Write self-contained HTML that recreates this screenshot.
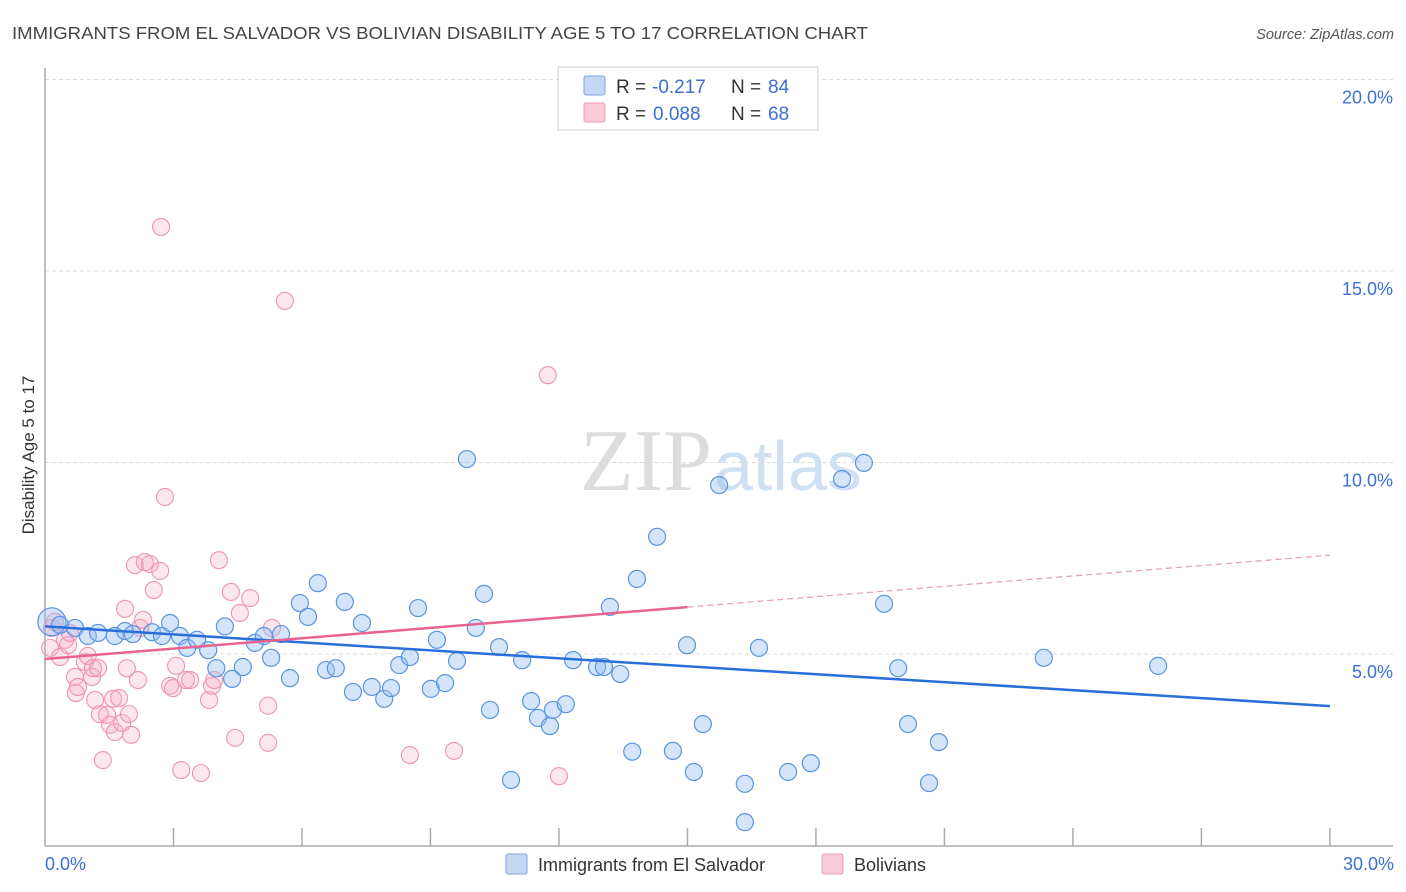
<!DOCTYPE html>
<html><head><meta charset="utf-8"><style>
body{margin:0;background:#fff;font-family:"Liberation Sans",sans-serif;}
svg{display:block}
</style></head><body>
<svg id="c" width="1406" height="892">
<text x="12" y="39" font-size="17.5" fill="#444" textLength="856" lengthAdjust="spacingAndGlyphs">IMMIGRANTS FROM EL SALVADOR VS BOLIVIAN DISABILITY AGE 5 TO 17 CORRELATION CHART</text>
<text x="1394" y="39" font-size="14.5" fill="#555" font-style="italic" text-anchor="end">Source: ZipAtlas.com</text>
<text x="712" y="490" font-size="88" fill="#ddd" font-family="Liberation Serif,serif" text-anchor="end">ZIP</text>
<text x="714" y="490" font-size="70" fill="#cfe0f3">atlas</text>
<g id="grid"></g>
<line x1="45" y1="68" x2="45" y2="846" stroke="#aaa" stroke-width="1.5"/>
<line x1="45" y1="846" x2="1393" y2="846" stroke="#aaa" stroke-width="1.5"/>
<g id="xt"></g>
<text transform="translate(34,455) rotate(-90)" font-size="17" fill="#333" text-anchor="middle">Disability Age 5 to 17</text>
<text x="45" y="870" font-size="18" fill="#3b6fd4">0.0%</text>
<text x="1394" y="870" font-size="18" fill="#3b6fd4" text-anchor="end">30.0%</text>
<g id="pts"></g>
<g id="lines"></g>
<g>
<rect x="558" y="67" width="260" height="63" fill="#fff" stroke="#ccc"/>
<rect x="584" y="76" width="21" height="19" fill="#c4d8f4" stroke="#7aa6e6" rx="2"/>
<rect x="584" y="103" width="21" height="19" fill="#f9cbd8" stroke="#f09ab2" rx="2"/>
<text x="616" y="93" font-size="19" fill="#333">R =</text>
<text x="652" y="93" font-size="19" fill="#3b6fd4">-0.217</text>
<text x="731" y="93" font-size="19" fill="#333">N =</text>
<text x="768" y="93" font-size="19" fill="#3b6fd4">84</text>
<text x="616" y="120" font-size="19" fill="#333">R =</text>
<text x="653" y="120" font-size="19" fill="#3b6fd4">0.088</text>
<text x="731" y="120" font-size="19" fill="#333">N =</text>
<text x="768" y="120" font-size="19" fill="#3b6fd4">68</text>
</g>
<g>
<rect x="506" y="854" width="21" height="20" fill="#c4d8f4" stroke="#7aa6e6" rx="2"/>
<text x="538" y="871" font-size="18" fill="#333">Immigrants from El Salvador</text>
<rect x="822" y="854" width="21" height="20" fill="#f9cbd8" stroke="#f09ab2" rx="2"/>
<text x="854" y="871" font-size="18" fill="#333">Bolivians</text>
</g>
</svg>
<script>
const yTicks=[5,10,15,20];
const yTickLabels=["5.0%","10.0%","15.0%","20.0%"];
const xTicks=[3,6,9,12,15,18,21,24,27,30];
const blueX=[.16,.35,.70,1.00,1.24,1.63,1.87,2.05,2.50,2.73,2.92,3.15,3.32,3.55,3.81,4.00,4.20,4.37,4.62,4.90,5.11,5.28,5.51,5.72,5.95,6.14,6.37,6.56,6.79,7.00,7.19,7.40,7.63,7.92,8.08,8.27,8.52,8.71,9.01,9.15,9.34,9.62,9.85,10.06,10.25,10.39,10.60,10.88,11.14,11.35,11.51,11.79,11.86,12.16,12.33,12.89,13.05,13.19,13.43,13.71,13.82,14.29,14.66,14.99,15.15,15.36,15.74,16.34,16.34,16.67,17.35,17.88,18.61,19.12,19.59,19.92,20.15,20.64,20.87,23.32,25.99];
const blueY=[5.84,5.76,5.68,5.47,5.55,5.47,5.60,5.52,5.57,5.47,5.81,5.47,5.16,5.37,5.10,4.63,5.72,4.35,4.66,5.29,5.47,4.90,5.52,4.37,6.33,5.97,6.85,4.58,4.63,6.36,4.01,5.81,4.14,3.83,4.11,4.71,4.92,6.20,4.09,5.37,4.24,4.82,10.09,5.68,6.57,3.54,5.18,1.71,4.84,3.77,3.33,3.12,3.54,3.69,4.84,4.66,4.66,6.23,4.48,2.45,6.96,8.06,2.47,5.23,1.92,3.17,9.41,1.61,0.61,5.16,1.92,2.15,9.57,9.99,6.31,4.63,3.17,1.63,2.70,4.90,4.69];
const pinkX=[.16,.12,.23,.35,.47,.54,.58,.70,.72,.77,.93,1.00,1.10,1.12,1.17,1.28,1.24,1.35,1.45,1.52,1.59,1.63,1.73,1.80,1.87,1.91,1.96,2.01,2.10,2.17,2.22,2.29,2.33,2.45,2.54,2.69,2.71,2.80,2.92,2.99,3.06,3.18,3.29,3.39,3.64,3.83,3.90,3.95,4.06,4.34,4.44,4.55,4.79,5.21,5.21,5.30,5.60,8.52,9.55,11.74,12.00];
const pinkY=[5.68,5.16,5.84,4.92,5.37,5.23,5.55,4.40,3.98,4.14,4.79,4.95,4.40,4.63,3.80,3.43,4.63,2.23,3.41,3.15,3.83,2.96,3.85,3.20,6.18,4.63,3.43,2.89,7.32,4.32,5.68,5.89,7.40,7.35,6.67,7.17,16.15,9.10,4.17,4.11,4.69,1.97,4.32,4.32,1.89,3.80,4.17,4.32,7.45,6.62,2.81,6.07,6.46,3.65,2.68,5.68,14.22,2.36,2.47,12.28,1.81];
const blueTrend=[5.72,3.64];
const pinkTrend=[4.87,7.58];
const NS="http://www.w3.org/2000/svg";
const sx=v=>45+v*42.83, sy=v=>845.5-v*38.3;
function mk(t,a,p){const e=document.createElementNS(NS,t);for(const k in a)e.setAttribute(k,a[k]);p.appendChild(e);return e;}
const grid=document.getElementById('grid');
yTicks.forEach((t,i)=>{
 const l=mk('line',{x1:45,x2:1393,y1:sy(t),y2:sy(t),stroke:'#ddd','stroke-dasharray':'4,3'},grid);
 
 
 const tx=mk('text',{x:1393,y:sy(t)+24,'font-size':18,fill:'#3b6fd4','text-anchor':'end'},grid);
 tx.textContent=yTickLabels[i];
 
 
});
const xt=document.getElementById('xt');
xTicks.forEach(t=>{
 const l=mk('line',{x1:sx(t),x2:sx(t),y1:828,y2:846,stroke:'#aaa','stroke-width':1.5},xt);
 
 
});
const pts=document.getElementById('pts');
pinkX.forEach((x,i)=>{
 const c=mk('circle',{cx:sx(x),cy:sy(pinkY[i]),r:8.5,fill:'rgba(246,175,198,0.3)',stroke:'#ee94b0','stroke-width':1.1},pts);
 
 
});
blueX.forEach((x,i)=>{
 const c=mk('circle',{cx:sx(x),cy:sy(blueY[i]),r:i==0?14:8.5,fill:'rgba(150,190,240,0.4)',stroke:'#5b93e0','stroke-width':1.2},pts);
 
 
});
const lines=document.getElementById('lines');
const bl=mk('line',{x1:sx(0),y1:sy(blueTrend[0]),x2:sx(30),y2:sy(blueTrend[1]),stroke:'#2a6fd8','stroke-width':2.5},lines);


const pm=pinkTrend[0]+(pinkTrend[1]-pinkTrend[0])*0.5;
const pl=mk('line',{x1:sx(0),y1:sy(pinkTrend[0]),x2:sx(15),y2:sy(pm),stroke:'#e8648e','stroke-width':2.5},lines);


const pd=mk('line',{x1:sx(15),y1:sy(pm),x2:sx(30),y2:sy(pinkTrend[1]),stroke:'#e8a0b8','stroke-width':1.3,'stroke-dasharray':'6,4'},lines);


</script>
</body></html>
